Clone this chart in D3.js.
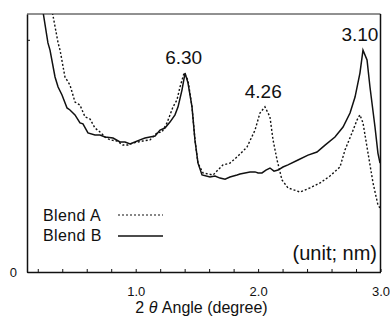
<!DOCTYPE html>
<html>
<head>
<meta charset="utf-8">
<script src="https://cdn.jsdelivr.net/npm/d3@7"></script>
<style>
  body { margin: 0; background: #fff; }
  svg { display: block; font-family: "Liberation Sans", Arial, Helvetica, sans-serif; }
</style>
</head>
<body>
<div id="chart"></div>
<script>
// 2 theta (degree) vs intensity (arbitrary, 0..100 = frame height)
const blendA = [
  [0.308, 103.5], [0.366, 88.8], [0.382, 86.0], [0.422, 75.6], [0.463, 72.5],
  [0.504, 65.9], [0.545, 64.7], [0.586, 60.1], [0.627, 59.3], [0.667, 55.8],
  [0.708, 54.3], [0.750, 52.3], [0.790, 51.2], [0.847, 50.8], [0.896, 49.2],
  [0.937, 49.2], [0.978, 50.0], [1.019, 50.4], [1.060, 50.8], [1.117, 51.2],
  [1.174, 53.9], [1.215, 54.3], [1.256, 57.8], [1.305, 64.0], [1.337, 66.7],
  [1.362, 71.7], [1.395, 77.1], [1.427, 74.4], [1.460, 64.0], [1.484, 51.2],
  [1.509, 42.2], [1.550, 38.4], [1.632, 37.6], [1.713, 41.5], [1.770, 42.2],
  [1.828, 44.6], [1.909, 48.4], [1.975, 55.0], [2.015, 61.6], [2.056, 64.0],
  [2.097, 60.1], [2.122, 51.2], [2.155, 43.4], [2.195, 35.7], [2.244, 32.6],
  [2.342, 31.0], [2.424, 32.6], [2.506, 34.5], [2.587, 37.2], [2.669, 40.7],
  [2.710, 47.3], [2.767, 53.9], [2.808, 58.9], [2.832, 60.9], [2.857, 57.8],
  [2.898, 46.1], [2.939, 34.5], [2.979, 26.0], [2.996, 24.8]
];

const blendB = [
  [0.234, 103.5], [0.283, 88.8], [0.300, 86.0], [0.341, 75.6], [0.366, 71.7],
  [0.398, 68.6], [0.439, 63.6], [0.463, 62.8], [0.504, 60.9], [0.545, 57.8],
  [0.569, 57.4], [0.610, 53.9], [0.667, 53.1], [0.708, 53.1], [0.750, 52.3],
  [0.815, 51.9], [0.872, 50.4], [0.913, 50.4], [0.954, 49.6], [0.994, 50.4],
  [1.035, 51.2], [1.076, 51.9], [1.117, 52.3], [1.158, 52.7], [1.199, 55.0],
  [1.239, 55.8], [1.280, 58.1], [1.321, 60.9], [1.346, 64.0], [1.378, 70.5],
  [1.403, 77.1], [1.427, 73.3], [1.460, 64.0], [1.484, 51.2], [1.509, 42.2],
  [1.542, 37.6], [1.607, 36.8], [1.648, 37.2], [1.689, 36.4], [1.730, 36.0],
  [1.770, 36.8], [1.828, 37.6], [1.852, 38.0], [1.893, 38.4], [1.934, 38.8],
  [1.975, 38.8], [2.000, 38.4], [2.032, 38.4], [2.064, 39.5], [2.097, 40.3],
  [2.130, 39.1], [2.163, 39.5], [2.203, 40.7], [2.244, 41.5], [2.326, 43.4],
  [2.408, 45.3], [2.481, 46.5], [2.547, 49.2], [2.628, 52.3], [2.694, 56.2],
  [2.751, 61.6], [2.792, 67.8], [2.832, 77.1], [2.857, 86.0], [2.890, 82.2],
  [2.914, 71.7], [2.955, 56.2], [2.979, 46.1], [2.996, 42.2]
];

const xTicks = [0.2, 0.4, 0.6, 0.8, 1.0, 1.2, 1.4, 1.6, 1.8, 2.0, 2.2, 2.4, 2.6, 2.8, 3.0];
const xTickLabels = ["1.0", "2.0", "3.0"];
const yTicks = [0, 90];

// peak labels: d-spacing (nm) placed over the peaks
const peaks = [
  { label: "6.30", x: 1.40, y: 77.1 },
  { label: "4.26", x: 2.05, y: 64.0 },
  { label: "3.10", x: 2.84, y: 86.0 }
];

const width = 390, height = 323;
const m = { left: 27, right: 380.5, top: 14, bottom: 272 };

const svg = d3.select("#chart").append("svg")
  .attr("width", width)
  .attr("height", height);

const x = d3.scaleLinear().domain([0.112, 3.0]).range([m.left, m.right]);
const y = d3.scaleLinear().domain([0, 100]).range([m.bottom, m.top]);

svg.append("clipPath").attr("id", "plot")
  .append("rect")
  .attr("x", m.left).attr("y", m.top)
  .attr("width", m.right - m.left).attr("height", m.bottom - m.top);

const line = d3.line()
  .x(d => x(d[0]))
  .y(d => y(d[1]));

svg.append("path")
  .datum(blendA)
  .attr("clip-path", "url(#plot)")
  .attr("fill", "none")
  .attr("stroke", "#111")
  .attr("stroke-width", 1.4)
  .attr("stroke-dasharray", "2,2")
  .attr("d", line);

svg.append("path")
  .datum(blendB)
  .attr("clip-path", "url(#plot)")
  .attr("fill", "none")
  .attr("stroke", "#111")
  .attr("stroke-width", 1.5)
  .attr("d", line);

// frame
svg.append("line")
  .attr("x1", m.left).attr("x2", m.right).attr("y1", m.top).attr("y2", m.top)
  .attr("stroke", "#222").attr("stroke-width", 1);
svg.append("line")
  .attr("x1", m.right).attr("x2", m.right).attr("y1", m.top).attr("y2", m.bottom)
  .attr("stroke", "#111").attr("stroke-width", 1.5);

// x axis, ticks pointing inward
const xAxis = svg.append("g")
  .attr("transform", `translate(0,${m.bottom})`)
  .call(d3.axisBottom(x)
    .tickValues(xTicks)
    .tickSizeInner(-3)
    .tickSizeOuter(0)
    .tickPadding(15)
    .tickFormat(d => {
      const s = d3.format(".1f")(d);
      return xTickLabels.includes(s) ? s : "";
    }));
xAxis.select(".domain").attr("stroke", "#111").attr("stroke-width", 1.5);
xAxis.selectAll(".tick line").attr("stroke", "#111");
xAxis.selectAll(".tick text")
  .attr("font-size", 13)
  .attr("font-family", null)
  .attr("fill", "#111");

const yAxis = svg.append("g")
  .attr("transform", `translate(${m.left},0)`)
  .call(d3.axisLeft(y)
    .tickValues(yTicks)
    .tickSizeInner(-3)
    .tickSizeOuter(0)
    .tickPadding(10)
    .tickFormat(d => d === 0 ? "0" : ""));
yAxis.select(".domain").attr("stroke", "#111").attr("stroke-width", 1.5);
yAxis.selectAll(".tick line").attr("stroke", "#111");
yAxis.selectAll(".tick text")
  .attr("font-size", 13)
  .attr("font-family", null)
  .attr("fill", "#111");

// axis title
const title = svg.append("text")
  .attr("x", 201.5)
  .attr("y", 313)
  .attr("text-anchor", "middle")
  .attr("font-size", 16)
  .attr("fill", "#111");
title.append("tspan").text("2 ");
title.append("tspan").attr("font-style", "italic").text("θ");
title.append("tspan").text(" Angle (degree)");

// peak labels
svg.selectAll(".peak")
  .data(peaks)
  .join("text")
  .attr("class", "peak")
  .attr("x", d => x(d.x) - 1)
  .attr("y", d => y(d.y) - 9)
  .attr("text-anchor", "middle")
  .attr("font-size", 19)
  .attr("fill", "#111")
  .text(d => d.label);

// legend
const legend = [
  { name: "Blend A", dash: "2,2", ty: 221, ly: 215 },
  { name: "Blend B", dash: null, ty: 241, ly: 236 }
];
const lg = svg.append("g");
lg.selectAll("text")
  .data(legend)
  .join("text")
  .attr("x", 43)
  .attr("y", d => d.ty)
  .attr("font-size", 16)
  .attr("letter-spacing", 0.4)
  .attr("fill", "#111")
  .text(d => d.name);
lg.selectAll("line")
  .data(legend)
  .join("line")
  .attr("x1", 118).attr("x2", 163)
  .attr("y1", d => d.ly).attr("y2", d => d.ly)
  .attr("stroke", "#111")
  .attr("stroke-width", d => d.dash ? 1.1 : 1.5)
  .attr("stroke-dasharray", d => d.dash);

svg.append("text")
  .attr("x", 377)
  .attr("y", 260)
  .attr("text-anchor", "end")
  .attr("font-size", 20)
  .attr("fill", "#111")
  .text("(unit; nm)");
</script>
</body>
</html>
